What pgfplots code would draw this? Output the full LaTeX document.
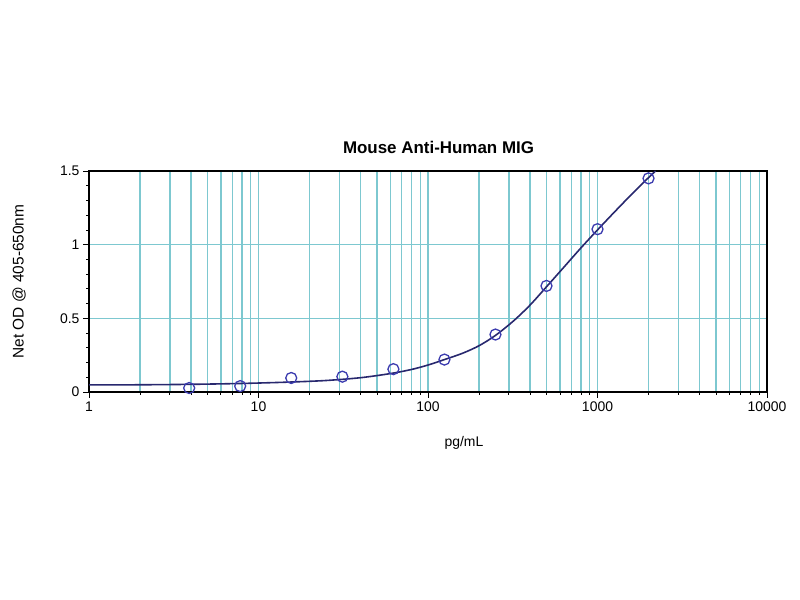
\documentclass[border=0pt]{standalone}
\usepackage{pgfplots}
\pgfplotsset{compat=1.18}
\usepackage{fontspec}
\setmainfont{Liberation Sans}
\definecolor{gridc}{RGB}{125,200,208}
\definecolor{curvec}{RGB}{40,40,110}
\definecolor{markc}{RGB}{60,60,175}
\begin{document}
\begin{tikzpicture}[x=1bp,y=1bp]
\path[use as bounding box] (0,0) rectangle (800,600);
\begin{axis}[
  at={(89bp,208bp)}, anchor=south west,
  scale only axis, width=678bp, height=221bp,
  xmode=log, log basis x=10,
  xmin=1, xmax=10000, ymin=0, ymax=1.5,
  xtick={1,10,100,1000,10000},
  xticklabels={1,10,100,1000,10000},
  minor xtick={2,3,4,5,6,7,8,9,20,30,40,50,60,70,80,90,200,300,400,500,600,700,800,900,2000,3000,4000,5000,6000,7000,8000,9000},
  ytick={0,0.5,1,1.5},
  yticklabels={0,0.5,1,1.5},
  minor ytick={0.1,0.2,0.3,0.4,0.6,0.7,0.8,0.9,1.1,1.2,1.3,1.4},
  xmajorgrids=true, xminorgrids=true, ymajorgrids=true, yminorgrids=false,
  major grid style={gridc, line width=1.4bp},
  minor grid style={gridc, line width=1.4bp},
  tick align=outside,
  xtick pos=bottom, ytick pos=left,
  major tick length=6bp, minor tick length=3bp,
  every tick/.style={black, line width=0.8bp},
  axis line style={black, line width=1.8bp},
  /pgf/number format/assume math mode=true,
  tick label style={font=\fontsize{14}{16}\selectfont},
  title={\textbf{Mouse Anti-Human MIG}},
  title style={at={(axis description cs:0.5155,1.05)}, anchor=base, font=\fontsize{17}{20}\selectfont},
  xlabel={pg/mL},
  xlabel style={at={(axis description cs:0.553,-0.231)}, anchor=center, font=\fontsize{14}{16}\selectfont},
  ylabel={Net OD @ 405-650nm},
  ylabel style={at={(axis description cs:-0.1032,0.5)}, anchor=center, font=\fontsize{15.5}{18}\selectfont},
  clip=true,
]
\addplot[curvec, line width=1.6bp, smooth] coordinates {
(1,0.048)(2,0.049)(4,0.052)(8,0.058)(15,0.067)(25,0.078)(40,0.097)(60,0.125)(80,0.153)(100,0.183)(125,0.22)(160,0.263)(200,0.314)(250,0.384)(320,0.483)(400,0.59)(500,0.714)(640,0.853)(800,0.979)(1000,1.10)(1260,1.222)(1600,1.345)(2000,1.455)(2200,1.50)
};
\addplot[only marks, mark=o, mark size=5.5bp, mark options={markc, line width=1.3bp}] coordinates {
(3.9,0.027)(7.8,0.04)(15.6,0.095)(31.25,0.104)(62.5,0.155)(125,0.22)(250,0.39)(500,0.72)(1000,1.105)(2000,1.45)
};
\end{axis}
\end{tikzpicture}
\end{document}
